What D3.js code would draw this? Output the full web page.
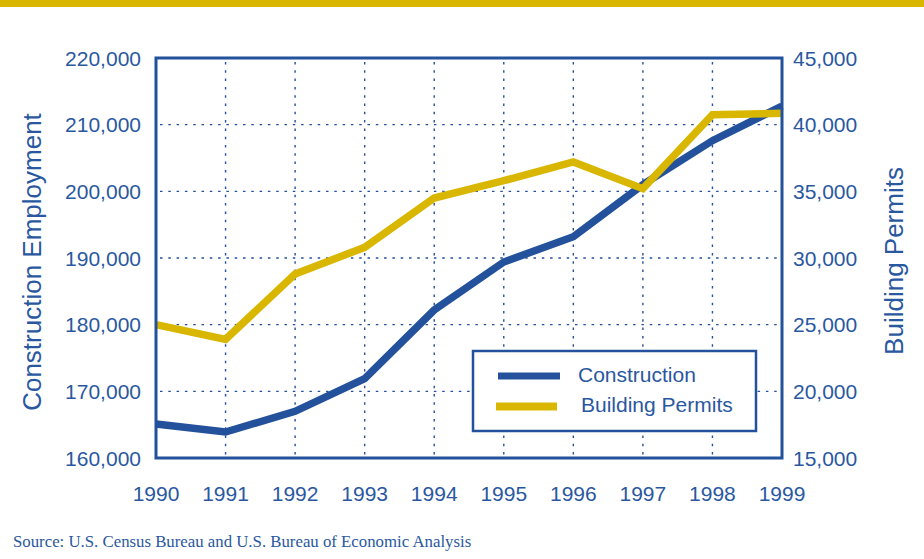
<!DOCTYPE html>
<html>
<head>
<meta charset="utf-8">
<script src="https://cdn.jsdelivr.net/npm/d3@7"></script>
<style>
  body { margin: 0; background: #fff; }
  text { font-family: "Liberation Sans", Arial, sans-serif; fill: #2a58a0; }
</style>
</head>
<body>
<div id="main"></div>
<script>
const ctx = {
    w: 924,
    h: 559,
    BLUE: "#23519b",
    YELLOW: "#d9b700",
    left: 156,
    right: 782,
    top: 58,
    bottom: 458,
    tickFont: 21,
    titleFont: 26,
};

const YEARS = [1990, 1991, 1992, 1993, 1994, 1995, 1996, 1997, 1998, 1999];
// Construction employment (left axis)
const CONSTRUCTION = [165100, 163900, 167000, 171900, 182200, 189400, 193200, 201000, 207600, 212800];
// Building permits (right axis)
const PERMITS = [25000, 23900, 28800, 30800, 34500, 35800, 37200, 35200, 40750, 40850];
const LEFT_TICKS = [160000, 170000, 180000, 190000, 200000, 210000, 220000];
const RIGHT_TICKS = [15000, 20000, 25000, 30000, 35000, 40000, 45000];

function createViz() {
    let svgEl = d3.select("#main").append("svg")
        .attr("width", ctx.w)
        .attr("height", ctx.h);

    // yellow banner at the top
    svgEl.append("rect")
        .attr("x", 0).attr("y", 0)
        .attr("width", ctx.w).attr("height", 7)
        .attr("fill", ctx.YELLOW);

    let x = d3.scaleLinear().domain([1990, 1999]).range([ctx.left, ctx.right]);
    let yL = d3.scaleLinear().domain([160000, 220000]).range([ctx.bottom, ctx.top]);
    let yR = d3.scaleLinear().domain([15000, 45000]).range([ctx.bottom, ctx.top]);
    let fmt = d3.format(",");

    // dotted grid
    let grid = svgEl.append("g");
    grid.selectAll("line.v")
        .data(YEARS.slice(1, -1))
        .enter().append("line")
        .attr("x1", (d) => x(d)).attr("x2", (d) => x(d))
        .attr("y1", ctx.top + 4).attr("y2", ctx.bottom)
        .attr("stroke", ctx.BLUE).attr("stroke-width", 1.4)
        .attr("stroke-dasharray", "2.5,5.8");
    grid.selectAll("line.h")
        .data(LEFT_TICKS.slice(1, -1))
        .enter().append("line")
        .attr("y1", (d) => yL(d)).attr("y2", (d) => yL(d))
        .attr("x1", ctx.left + 4).attr("x2", ctx.right)
        .attr("stroke", ctx.BLUE).attr("stroke-width", 1.4)
        .attr("stroke-dasharray", "2.5,5.8");

    // lines
    let lineL = d3.line().x((d, i) => x(YEARS[i])).y((d) => yL(d));
    let lineR = d3.line().x((d, i) => x(YEARS[i])).y((d) => yR(d));
    svgEl.append("path")
        .attr("d", lineL(CONSTRUCTION))
        .attr("fill", "none").attr("stroke", ctx.BLUE)
        .attr("stroke-width", 7.5);
    svgEl.append("path")
        .attr("d", lineR(PERMITS))
        .attr("fill", "none").attr("stroke", ctx.YELLOW)
        .attr("stroke-width", 7.5);

    // frame
    svgEl.append("rect")
        .attr("x", ctx.left).attr("y", ctx.top)
        .attr("width", ctx.right - ctx.left).attr("height", ctx.bottom - ctx.top)
        .attr("fill", "none").attr("stroke", ctx.BLUE).attr("stroke-width", 3);

    // tick labels
    svgEl.append("g").selectAll("text")
        .data(LEFT_TICKS).enter().append("text")
        .attr("x", ctx.left - 15).attr("y", (d) => yL(d) + 7.5)
        .attr("text-anchor", "end").attr("font-size", ctx.tickFont)
        .text((d) => fmt(d));
    svgEl.append("g").selectAll("text")
        .data(RIGHT_TICKS).enter().append("text")
        .attr("x", ctx.right + 11).attr("y", (d) => yR(d) + 7.5)
        .attr("text-anchor", "start").attr("font-size", ctx.tickFont)
        .text((d) => fmt(d));
    svgEl.append("g").selectAll("text")
        .data(YEARS).enter().append("text")
        .attr("x", (d) => x(d)).attr("y", 501)
        .attr("text-anchor", "middle").attr("font-size", ctx.tickFont)
        .text((d) => d);

    // axis titles
    svgEl.append("text")
        .attr("transform", "translate(41,262) rotate(-90)")
        .attr("text-anchor", "middle").attr("font-size", ctx.titleFont)
        .text("Construction Employment");
    svgEl.append("text")
        .attr("transform", "translate(903,261) rotate(-90)")
        .attr("text-anchor", "middle").attr("font-size", ctx.titleFont)
        .text("Building Permits");

    // legend
    let legendG = svgEl.append("g").attr("transform", "translate(473,351)");
    legendG.append("rect")
        .attr("width", 283).attr("height", 80)
        .attr("fill", "white").attr("stroke", ctx.BLUE).attr("stroke-width", 2.5);
    legendG.append("line")
        .attr("x1", 25).attr("x2", 87).attr("y1", 25).attr("y2", 25)
        .attr("stroke", ctx.BLUE).attr("stroke-width", 7);
    legendG.append("line")
        .attr("x1", 23).attr("x2", 84).attr("y1", 55.5).attr("y2", 55.5)
        .attr("stroke", ctx.YELLOW).attr("stroke-width", 8);
    legendG.append("text")
        .attr("x", 105).attr("y", 31).attr("font-size", ctx.tickFont)
        .text("Construction");
    legendG.append("text")
        .attr("x", 108).attr("y", 61).attr("font-size", ctx.tickFont)
        .text("Building Permits");

    // source note
    svgEl.append("text")
        .attr("x", 13).attr("y", 547)
        .attr("font-size", 16.8)
        .style("font-family", "'Liberation Serif', 'Times New Roman', serif")
        .text("Source: U.S. Census Bureau and U.S. Bureau of Economic Analysis");
}

createViz();
</script>
</body>
</html>
